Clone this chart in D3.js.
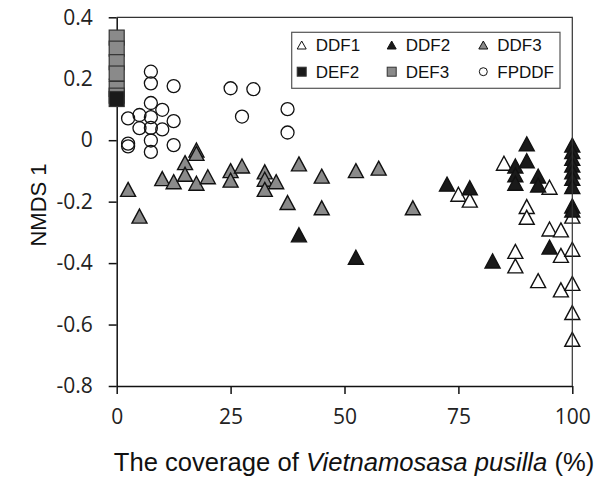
<!DOCTYPE html>
<html>
<head>
<meta charset="utf-8">
<script src="https://cdn.jsdelivr.net/npm/d3@7"></script>
<style>
  body { margin: 0; background: #fff; }
  text { font-family: "Liberation Sans", Arial, sans-serif; }
  .tick text { font-family: "Open Sans", "Liberation Sans", sans-serif; }
</style>
</head>
<body>
<div id="chart"></div>
<script>
// coverage (%) and NMDS 1 score, one pair per plot
var ddf1X = [75, 77.5, 85, 87.5, 87.5, 90, 90, 92.5, 95, 95, 97.5, 97.5, 97.5, 100, 100, 100, 100, 100];
var ddf1Y = [-0.176, -0.195, -0.075, -0.362, -0.409, -0.216, -0.251, -0.457, -0.153, -0.289, -0.292, -0.375, -0.487, -0.247, -0.355, -0.466, -0.561, -0.648];

var ddf2X = [40, 52.5, 72.5, 77.5, 82.5, 87.5, 87.5, 87.5, 90, 90, 92.5, 92.5, 95, 100, 100, 100, 100, 100, 100, 100, 100, 100];
var ddf2Y = [-0.308, -0.381, -0.143, -0.155, -0.393, -0.084, -0.113, -0.140, -0.012, -0.067, -0.117, -0.146, -0.348, -0.016, -0.037, -0.059, -0.081, -0.103, -0.124, -0.151, -0.214, -0.227];

var ddf3X = [2.5, 5, 10, 12.5, 15, 15, 17.5, 17.5, 17.5, 20, 25, 25, 27.5, 32.5, 32.5, 32.5, 35, 37.5, 40, 45, 45, 52.5, 57.5, 65];
var ddf3Y = [-0.16, -0.247, -0.125, -0.135, -0.073, -0.111, -0.032, -0.043, -0.14, -0.119, -0.099, -0.13, -0.084, -0.103, -0.127, -0.16, -0.135, -0.203, -0.077, -0.117, -0.22, -0.099, -0.091, -0.22];

var def2X = [0];
var def2Y = [0.134];

var def3X = [0, 0, 0, 0, 0, 0];
var def3Y = [0.334, 0.298, 0.254, 0.217, 0.167, 0.145];

var fpddfX = [7.5, 7.5, 12.5, 25, 30, 7.5, 10, 5, 2.5, 7.5, 12.5, 27.5, 37.5, 37.5, 5, 7.5, 10, 7.5, 2.5, 2.5, 12.5, 7.5];
var fpddfY = [0.223, 0.185, 0.176, 0.169, 0.166, 0.121, 0.099, 0.082, 0.071, 0.075, 0.062, 0.077, 0.101, 0.025, 0.039, 0.04, 0.035, -0.001, -0.011, -0.02, -0.016, -0.038];

var xTicks = [0, 25, 50, 75, 100];
var yTicks = [0.4, 0.2, 0, -0.2, -0.4, -0.6, -0.8];

var width = 595, height = 478;
var svg = d3.select("#chart").append("svg")
    .attr("width", width)
    .attr("height", height);

var x = d3.scaleLinear().domain([0, 100]).range([116.7, 572.3]);
var y = d3.scaleLinear().domain([-0.8, 0.4]).range([386, 17.3]);

// axes
svg.append("g")
    .attr("transform", "translate(" + x(0) + ",0)")
    .call(d3.axisLeft(y).tickValues(yTicks).tickSize(8).tickSizeOuter(0).tickPadding(16)
        .tickFormat(function(d) { return d === 0 ? "0" : String(d); }))
    .call(function(g) {
        g.select(".domain").attr("stroke", "#111").attr("stroke-width", 1.5);
        g.selectAll(".tick line").attr("stroke", "#111").attr("stroke-width", 1.5);
        g.selectAll(".tick text").attr("font-size", "21px").attr("fill", "#222");
    });

svg.append("g")
    .attr("transform", "translate(0," + y(-0.8) + ")")
    .call(d3.axisBottom(x).tickValues(xTicks).tickSize(8).tickSizeOuter(0).tickPadding(15))
    .call(function(g) {
        g.select(".domain").attr("stroke", "#111").attr("stroke-width", 1.5);
        g.selectAll(".tick line").attr("stroke", "#111").attr("stroke-width", 1.5);
        g.selectAll(".tick text").attr("font-size", "21px").attr("fill", "#222");
    });

// markers
function tri(cx, cy, w, h) {
    return "M" + cx + "," + (cy - h / 2) + "L" + (cx + w / 2) + "," + (cy + h / 2) + "L" + (cx - w / 2) + "," + (cy + h / 2) + "Z";
}

function zip(xs, ys) {
    return xs.map(function(v, i) { return [v, ys[i]]; });
}

function triangles(xs, ys, fill) {
    svg.append("g").selectAll("path")
        .data(zip(xs, ys))
        .enter().append("path")
        .attr("d", function(d) { return tri(x(d[0]), y(d[1]), 15, 14); })
        .attr("fill", fill)
        .attr("stroke", "#111")
        .attr("stroke-width", 1.4)
        .attr("stroke-linejoin", "miter");
}

triangles(ddf1X, ddf1Y, "#fff");
triangles(ddf2X, ddf2Y, "#1a1a1a");
triangles(ddf3X, ddf3Y, "#8a8a8a");

function squares(xs, ys, fill) {
    svg.append("g").selectAll("rect")
        .data(zip(xs, ys))
        .enter().append("rect")
        .attr("x", function(d) { return x(d[0]) - 7.5; })
        .attr("y", function(d) { return y(d[1]) - 7.5; })
        .attr("width", 15)
        .attr("height", 15)
        .attr("fill", fill)
        .attr("stroke", "#333")
        .attr("stroke-width", 1.2);
}

squares(def3X, def3Y, "#8a8a8a");
squares(def2X, def2Y, "#1a1a1a");

svg.append("g").selectAll("circle")
    .data(zip(fpddfX, fpddfY))
    .enter().append("circle")
    .attr("cx", function(d) { return x(d[0]); })
    .attr("cy", function(d) { return y(d[1]); })
    .attr("r", 6.5)
    .attr("fill", "none")
    .attr("stroke", "#111")
    .attr("stroke-width", 1.3);

// plot border (top and right)
svg.append("path")
    .attr("d", "M" + x(0) + "," + y(0.4) + "H" + x(100) + "V" + y(-0.8))
    .attr("fill", "none")
    .attr("stroke", "#333")
    .attr("stroke-width", 1.2);

// legend
var legend = svg.append("g");
legend.append("rect")
    .attr("x", 291.7).attr("y", 32.3)
    .attr("width", 268.3).attr("height", 56)
    .attr("fill", "#fff")
    .attr("stroke", "#555")
    .attr("stroke-width", 1.2);

var legendItems = [
    { name: "DDF1", shape: "tri", fill: "#fff", cx: 301.7, cy: 45 },
    { name: "DDF2", shape: "tri", fill: "#1a1a1a", cx: 391.7, cy: 45 },
    { name: "DDF3", shape: "tri", fill: "#8a8a8a", cx: 483.3, cy: 45 },
    { name: "DEF2", shape: "sq", fill: "#1a1a1a", cx: 301.7, cy: 71.7 },
    { name: "DEF3", shape: "sq", fill: "#8a8a8a", cx: 391.7, cy: 71.7 },
    { name: "FPDDF", shape: "circ", fill: "#fff", cx: 483.3, cy: 71.7 }
];

legendItems.forEach(function(it) {
    if (it.shape === "tri") {
        legend.append("path").attr("d", tri(it.cx, it.cy, 9, 8))
            .attr("fill", it.fill).attr("stroke", "#111").attr("stroke-width", 1);
    } else if (it.shape === "sq") {
        legend.append("rect").attr("x", it.cx - 4.5).attr("y", it.cy - 4.5)
            .attr("width", 9).attr("height", 9)
            .attr("fill", it.fill).attr("stroke", "#333").attr("stroke-width", 1);
    } else {
        legend.append("circle").attr("cx", it.cx).attr("cy", it.cy).attr("r", 4)
            .attr("fill", "none").attr("stroke", "#111").attr("stroke-width", 1);
    }
    legend.append("text")
        .attr("x", it.cx + 14).attr("y", it.cy)
        .attr("dy", "0.36em")
        .attr("font-size", "17px")
        .attr("fill", "#111")
        .text(it.name);
});

// axis titles
svg.append("text")
    .attr("transform", "translate(46,205) rotate(-90)")
    .attr("text-anchor", "middle")
    .attr("font-size", "22px")
    .attr("fill", "#111")
    .text("NMDS 1");

var xt = svg.append("text")
    .attr("x", 354).attr("y", 471)
    .attr("text-anchor", "middle")
    .attr("font-size", "25.6px")
    .attr("fill", "#111");
xt.append("tspan").text("The coverage of ");
xt.append("tspan").attr("font-style", "italic").text("Vietnamosasa pusilla");
xt.append("tspan").text(" (%)");
</script>
</body>
</html>
